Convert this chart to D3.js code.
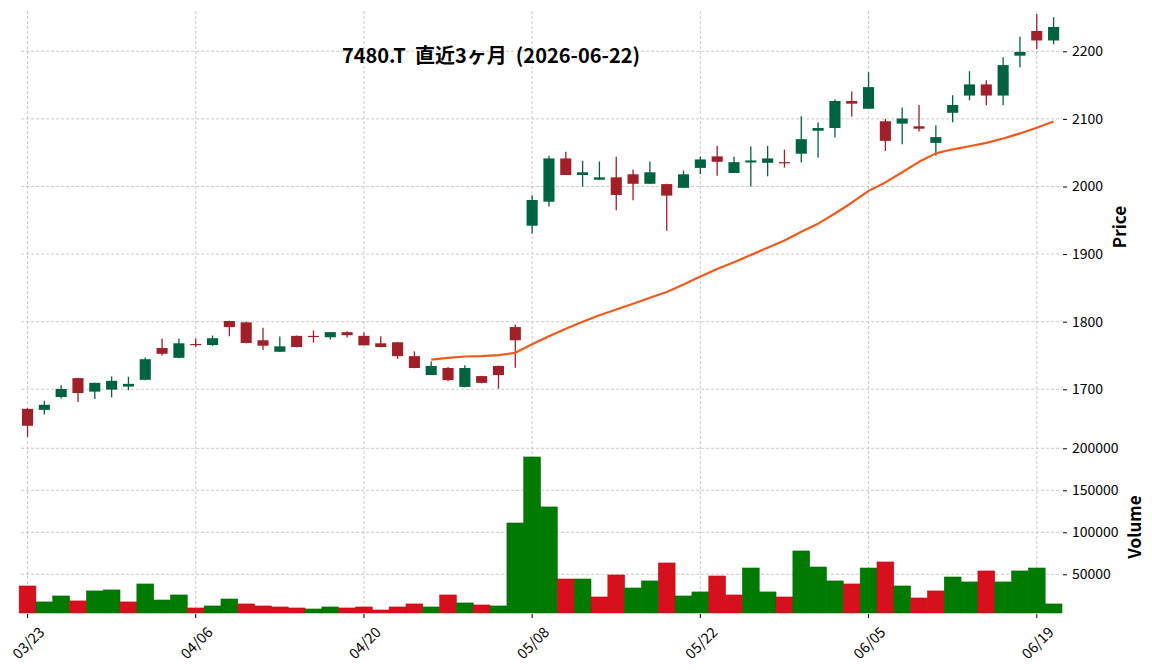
<!DOCTYPE html>
<html>
<head>
<meta charset="utf-8">
<script src="https://cdn.jsdelivr.net/npm/d3@7"></script>
<style>
  body { margin: 0; background: #fff; }
  text { font-family: "Noto Sans CJK JP", "Noto Sans", sans-serif; fill: #000; }
  .grid line { stroke: #bdbdbd; stroke-width: 0.8; stroke-dasharray: 3,2; }
</style>
</head>
<body>
<div id="chart-area"></div>
<script>
// trading days 2026-03-23 .. 2026-06-22
var dates = ["03/23","03/24","03/25","03/26","03/27","03/30","03/31","04/01","04/02","04/03",
    "04/06","04/07","04/08","04/09","04/10","04/13","04/14","04/15","04/16","04/17",
    "04/20","04/21","04/22","04/23","04/24","04/27","04/28","04/30","05/01","05/07",
    "05/08","05/11","05/12","05/13","05/14","05/15","05/18","05/19","05/20","05/21",
    "05/22","05/25","05/26","05/27","05/28","05/29","06/01","06/02","06/03","06/04",
    "06/05","06/08","06/09","06/10","06/11","06/12","06/15","06/16","06/17","06/18",
    "06/19","06/22"];

var opens = [1671,1669.5,1688.5,1716.5,1696.5,1699.5,1704,1714,1761,1746.5,
    1767,1765.5,1801,1799,1772.5,1755.5,1779,1779,1777,1784.5,
    1779,1768,1769.5,1749,1721,1731.5,1703.5,1719.5,1734.5,1792,
    1942,1977.5,2041.5,2017,2010,2013.5,2018,2004,2003.5,1998,
    2027.5,2044.5,2020,2035.5,2035,2036,2048.5,2082.5,2086.5,2126.5,
    2115,2096.5,2093,2089,2064.5,2109,2134.5,2151,2134.5,2193.5,
    2230,2216];

var highs = [1672,1683,1706,1717,1709.5,1719,1718.5,1747,1775,1775,
    1775,1779.5,1801.5,1800,1791,1778,1779.5,1787,1784.5,1786,
    1784,1778.5,1770,1756,1741,1733,1735.5,1720,1735,1796,
    1987,2045.5,2051.5,2038,2037,2044,2025,2037,2004,2023.5,
    2044,2060,2044,2059,2060,2054.5,2104,2095,2128.5,2140.5,
    2169,2100,2117,2120.5,2090.5,2135,2170.5,2157,2191,2221.5,
    2255,2250.5];

var lows = [1629.5,1662.5,1686.5,1681,1685.5,1688,1698.5,1713.5,1750,1746,
    1762.5,1764,1778.5,1768,1758,1755,1762,1769,1773.5,1776.5,
    1765,1762,1745,1731,1721,1712,1703,1709,1701,1732,
    1930.5,1970.5,2017,2000,2009.5,1965,1979.5,2003.5,1934.5,1998,
    2018.5,2016,2020,2000,2015,2028,2035.5,2042.5,2072.5,2103.5,
    2115,2052.5,2062.5,2081.5,2045.5,2095,2127.5,2120,2120,2176.5,
    2203,2210.5];

var closes = [1646,1677,1700.5,1694.5,1709.5,1712.5,1708,1744.5,1752.5,1768,
    1765.5,1775.5,1792,1768.5,1764.5,1763.5,1762.5,1777.5,1784.5,1780,
    1765,1762.5,1749,1731.5,1734.5,1713.5,1731.5,1709.5,1721,1772.5,
    1980,2041.5,2017,2021,2013.5,1987.5,2004,2021,1986.5,2018,
    2040,2036.5,2036,2038.5,2041.5,2035,2070,2086.5,2126.5,2122.5,
    2147,2067.5,2100.5,2085.5,2073,2120.5,2151,2134.5,2179.5,2199,
    2216,2236];

var volumes = [36100,17100,24200,18300,30200,31400,17100,38500,19400,25400,
    9900,12300,20600,14700,12300,11100,9900,8700,11100,9900,
    11100,7500,11100,14700,11100,25400,15900,13500,12300,111100,
    189700,130200,44400,44400,23000,49200,33700,42100,63500,24200,
    29000,48000,25400,57500,29000,23000,77800,58700,42100,38500,
    57500,64700,36100,21800,30200,46800,40900,54000,40900,54000,
    57500,14700];

// 25-day moving average as drawn (starts at the 25th session)
var ma25 = [null,null,null,null,null,null,null,null,null,null,
    null,null,null,null,null,null,null,null,null,null,
    null,null,null,null,1744,1746.5,1748.5,1749,1750.5,1754,
    1766.5,1778.5,1789.5,1800,1809.5,1818,1826.5,1835.5,1844,1855,
    1867,1878,1888,1898.5,1909.5,1920,1933,1945,1960,1976,
    1993.5,2006,2021,2036.5,2049,2055,2059.5,2064.5,2071,2078.5,
    2087,2096];

var xTickIdx = [0,10,20,30,40,50,60];
var priceTicks = [1700,1800,1900,2000,2100,2200];
var volumeTicks = [50000,100000,150000,200000];

var W = 1152, H = 670;
var plot = {left: 19.1, right: 1062};
var pricePanel = {top: 11, bottom: 442};
var volPanel = {top: 442, bottom: 613};

var upCandle = "#00633f", downCandle = "#a11f29";
var upVol = "#007a00", downVol = "#d6101c";

var svg = d3.select("#chart-area").append("svg")
    .attr("width", W)
    .attr("height", H);

var x = d3.scaleLinear()
    .domain([-0.5, dates.length - 0.5])
    .range([plot.left, plot.right]);

var y = d3.scaleLinear()
    .domain([1622, 2259.6])
    .range([pricePanel.bottom, pricePanel.top]);

var yVol = d3.scaleLinear()
    .domain([3900, 207500])
    .range([volPanel.bottom, volPanel.top]);

var step = x(1) - x(0);

// grid
var grid = svg.append("g").attr("class", "grid");

grid.selectAll(".vgrid").data(xTickIdx).enter().append("line")
    .attr("x1", function(d){ return x(d); })
    .attr("x2", function(d){ return x(d); })
    .attr("y1", pricePanel.top)
    .attr("y2", volPanel.bottom);

grid.selectAll(".pgrid").data(priceTicks).enter().append("line")
    .attr("x1", plot.left + 2)
    .attr("x2", plot.right)
    .attr("y1", function(d){ return y(d); })
    .attr("y2", function(d){ return y(d); });

grid.selectAll(".vgridh").data(volumeTicks).enter().append("line")
    .attr("x1", plot.left + 2)
    .attr("x2", plot.right)
    .attr("y1", function(d){ return yVol(d); })
    .attr("y2", function(d){ return yVol(d); });

// volume bars, coloured against previous close
function volUp(i) {
    return i === 0 ? closes[i] >= opens[i] : closes[i] >= closes[i - 1];
}

var volG = svg.append("g");
volG.selectAll("rect").data(volumes).enter().append("rect")
    .attr("x", function(d, i){ return x(i) - step / 2; })
    .attr("width", step)
    .attr("y", function(d){ return yVol(d); })
    .attr("height", function(d){ return volPanel.bottom - yVol(d); })
    .attr("fill", function(d, i){ return volUp(i) ? upVol : downVol; })
    .attr("stroke", function(d, i){ return volUp(i) ? "#006a00" : "#c00c16"; })
    .attr("stroke-width", 0.5);

// candles
var bodyW = step * 0.66;
var candles = svg.append("g").selectAll("g").data(dates).enter().append("g");

candles.append("line")
    .attr("x1", function(d, i){ return x(i); })
    .attr("x2", function(d, i){ return x(i); })
    .attr("y1", function(d, i){ return y(highs[i]); })
    .attr("y2", function(d, i){ return y(lows[i]); })
    .attr("stroke", function(d, i){ return closes[i] >= opens[i] ? upCandle : downCandle; })
    .attr("stroke-width", 1.3);

candles.append("rect")
    .attr("x", function(d, i){ return x(i) - bodyW / 2; })
    .attr("width", bodyW)
    .attr("y", function(d, i){ return y(Math.max(opens[i], closes[i])); })
    .attr("height", function(d, i){ return Math.max(1.2, Math.abs(y(opens[i]) - y(closes[i]))); })
    .attr("fill", function(d, i){ return closes[i] >= opens[i] ? upCandle : downCandle; });

// moving average
var maLine = d3.line()
    .defined(function(d){ return d !== null; })
    .x(function(d, i){ return x(i); })
    .y(function(d){ return y(d); });

svg.append("path")
    .datum(ma25)
    .attr("d", maLine)
    .attr("fill", "none")
    .attr("stroke", "#f25a1c")
    .attr("stroke-width", 2.2)
    .attr("stroke-linejoin", "round");

// right y axes
var axisX = plot.right + 1;

var priceAxis = d3.axisRight(y).tickValues(priceTicks).tickSize(4).tickPadding(5)
    .tickFormat(d3.format("d"));
svg.append("g")
    .attr("transform", "translate(" + axisX + ",0)")
    .call(priceAxis)
    .call(function(g){ g.select(".domain").remove(); })
    .selectAll("text").style("font-size", "14px");

var volAxis = d3.axisRight(yVol).tickValues(volumeTicks).tickSize(4).tickPadding(5)
    .tickFormat(d3.format("d"));
svg.append("g")
    .attr("transform", "translate(" + axisX + ",0)")
    .call(volAxis)
    .call(function(g){ g.select(".domain").remove(); })
    .selectAll("text").style("font-size", "14px");

// x ticks + rotated labels
var xt = svg.append("g");
xt.selectAll("line").data(xTickIdx).enter().append("line")
    .attr("x1", function(d){ return x(d); })
    .attr("x2", function(d){ return x(d); })
    .attr("y1", volPanel.bottom + 1)
    .attr("y2", volPanel.bottom + 5)
    .attr("stroke", "#000");

xt.selectAll("text").data(xTickIdx).enter().append("text")
    .attr("transform", function(d){ return "translate(" + x(d) + ",642) rotate(-45)"; })
    .attr("text-anchor", "middle")
    .attr("dominant-baseline", "central")
    .style("font-size", "14.5px")
    .text(function(d){ return dates[d]; });

// axis titles
svg.append("text")
    .attr("transform", "translate(1118,227) rotate(-90)")
    .attr("text-anchor", "middle")
    .attr("dominant-baseline", "central")
    .style("font-size", "17px")
    .style("font-weight", "bold")
    .text("Price");

svg.append("text")
    .attr("transform", "translate(1133,527) rotate(-90)")
    .attr("text-anchor", "middle")
    .attr("dominant-baseline", "central")
    .style("font-size", "17px")
    .style("font-weight", "bold")
    .text("Volume");

// title
svg.append("text")
    .attr("x", 491)
    .attr("y", 63)
    .attr("text-anchor", "middle")
    .style("font-size", "20px")
    .style("font-weight", "bold")
    .style("white-space", "pre")
    .text("7480.T  直近3ヶ月  (2026-06-22)");
</script>
</body>
</html>
